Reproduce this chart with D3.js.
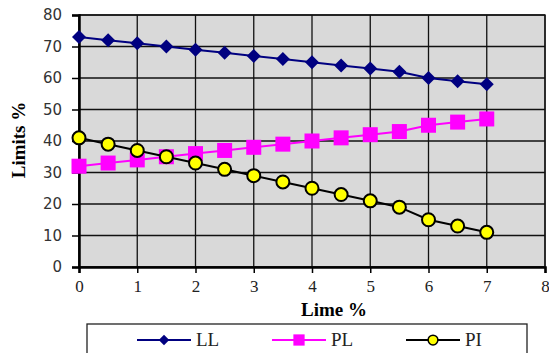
<!DOCTYPE html>
<html>
<head>
<meta charset="utf-8">
<script src="https://cdn.jsdelivr.net/npm/d3@7"></script>
<style>
    body { margin: 0; background: #fff; }
    svg { display: block; }
</style>
</head>
<body>
<div id="chart"></div>
<script>
// data
var limeValues = [0, 0.5, 1, 1.5, 2, 2.5, 3, 3.5, 4, 4.5, 5, 5.5, 6, 6.5, 7];
var llValues = [73, 72, 71, 70, 69, 68, 67, 66, 65, 64, 63, 62, 60, 59, 58];
var plValues = [32, 33, 34, 35, 36, 37, 38, 39, 40, 41, 42, 43, 45, 46, 47];
var piValues = [41, 39, 37, 35, 33, 31, 29, 27, 25, 23, 21, 19, 15, 13, 11];
var seriesNames = ["LL", "PL", "PI"];
var xTicks = [0, 1, 2, 3, 4, 5, 6, 7, 8];
var yTicks = [0, 10, 20, 30, 40, 50, 60, 70, 80];

var width = 549;
var height = 353;
var margin = { left: 79, right: 4, top: 15, bottom: 86 };

var svg = d3.select("#chart").append("svg")
    .attr("width", width)
    .attr("height", height);

var xScale = d3.scaleLinear()
    .domain([0, 8])
    .range([margin.left, width - margin.right]);

var yScale = d3.scaleLinear()
    .domain([0, 80])
    .range([height - margin.bottom, margin.top]);

// plot background
svg.append("rect")
    .attr("x", xScale(0))
    .attr("y", yScale(80))
    .attr("width", xScale(8) - xScale(0))
    .attr("height", yScale(0) - yScale(80))
    .attr("fill", "#d9d9d9")
    .attr("stroke", "#333")
    .attr("stroke-width", 1.5);

// grid
svg.append("g").selectAll("line")
    .data(yTicks)
    .enter().append("line")
    .attr("x1", xScale(0))
    .attr("x2", xScale(8))
    .attr("y1", function (d) { return yScale(d); })
    .attr("y2", function (d) { return yScale(d); })
    .attr("stroke", "#111")
    .attr("stroke-width", 1.3);

svg.append("g").selectAll("line")
    .data(xTicks)
    .enter().append("line")
    .attr("x1", function (d) { return xScale(d); })
    .attr("x2", function (d) { return xScale(d); })
    .attr("y1", yScale(0))
    .attr("y2", yScale(80))
    .attr("stroke", "#111")
    .attr("stroke-width", 1.3);

// axes
var xAxis = svg.append("g")
    .attr("transform", "translate(0," + yScale(0) + ")")
    .call(d3.axisBottom(xScale).tickValues(xTicks).tickSize(6).tickPadding(7).tickFormat(d3.format("d")));
xAxis.select(".domain").attr("stroke", "#000").attr("stroke-width", 2.5);
xAxis.selectAll("line").attr("stroke", "#000").attr("stroke-width", 1.5);
xAxis.selectAll("text")
    .attr("font-family", "Liberation Serif, serif")
    .attr("font-size", 17)
    .attr("fill", "#222");

var yAxis = svg.append("g")
    .attr("transform", "translate(" + xScale(0) + ",0)")
    .call(d3.axisLeft(yScale).tickValues(yTicks).tickSize(7).tickPadding(10));
yAxis.select(".domain").attr("stroke", "#000").attr("stroke-width", 2.5);
yAxis.selectAll("line").attr("stroke", "#000").attr("stroke-width", 1.5);
yAxis.selectAll("text")
    .attr("font-family", "DejaVu Sans, sans-serif")
    .attr("font-size", 15)
    .attr("fill", "#333");

// axis titles
svg.append("text")
    .attr("x", 334)
    .attr("y", 316)
    .attr("text-anchor", "middle")
    .attr("font-family", "Liberation Serif, serif")
    .attr("font-weight", "bold")
    .attr("font-size", 19)
    .text("Lime %");

svg.append("text")
    .attr("transform", "translate(25,140) rotate(-90)")
    .attr("text-anchor", "middle")
    .attr("font-family", "Liberation Serif, serif")
    .attr("font-weight", "bold")
    .attr("font-size", 19)
    .text("Limits %");

// lines and markers
var line = d3.line()
    .x(function (d, i) { return xScale(limeValues[i]); })
    .y(function (d) { return yScale(d); });

var series = [
    { name: seriesNames[0], values: llValues, color: "#000080", marker: "diamond" },
    { name: seriesNames[1], values: plValues, color: "#ff00ff", marker: "square" },
    { name: seriesNames[2], values: piValues, color: "#000000", marker: "circle" }
];

function drawMarker(g, type, x, y) {
    if (type === "diamond") {
        g.append("path")
            .attr("d", "M" + x + "," + (y - 7) + "L" + (x + 7) + "," + y + "L" + x + "," + (y + 7) + "L" + (x - 7) + "," + y + "Z")
            .attr("fill", "#000080");
    } else if (type === "square") {
        g.append("rect")
            .attr("x", x - 7.5)
            .attr("y", y - 7.5)
            .attr("width", 15)
            .attr("height", 15)
            .attr("fill", "#ff00ff");
    } else {
        g.append("circle")
            .attr("cx", x)
            .attr("cy", y)
            .attr("r", 6.5)
            .attr("fill", "#ffff00")
            .attr("stroke", "#000")
            .attr("stroke-width", 2);
    }
}

series.forEach(function (s) {
    svg.append("path")
        .datum(s.values)
        .attr("fill", "none")
        .attr("stroke", s.color)
        .attr("stroke-width", 2)
        .attr("d", line);
    var g = svg.append("g");
    s.values.forEach(function (v, i) {
        drawMarker(g, s.marker, xScale(limeValues[i]), yScale(v));
    });
});

// legend
svg.append("rect")
    .attr("x", 87)
    .attr("y", 324)
    .attr("width", 440)
    .attr("height", 40)
    .attr("fill", "#fff")
    .attr("stroke", "#222")
    .attr("stroke-width", 1.3);

var legendX = [137, 272, 406];
series.forEach(function (s, i) {
    var lg = svg.append("g");
    var x0 = legendX[i];
    lg.append("line")
        .attr("x1", x0)
        .attr("x2", x0 + 54)
        .attr("y1", 340)
        .attr("y2", 340)
        .attr("stroke", s.color)
        .attr("stroke-width", 2);
    var m = svg.append("g").attr("transform", "translate(" + (x0 + 27) + ",340) scale(0.75) translate(" + -(x0 + 27) + ",-340)");
    drawMarker(m, s.marker, x0 + 27, 340);
    lg.append("text")
        .attr("x", x0 + 59)
        .attr("y", 346)
        .attr("font-family", "Liberation Serif, serif")
        .attr("font-size", 19)
        .attr("fill", "#222")
        .text(s.name);
});
</script>
</body>
</html>
